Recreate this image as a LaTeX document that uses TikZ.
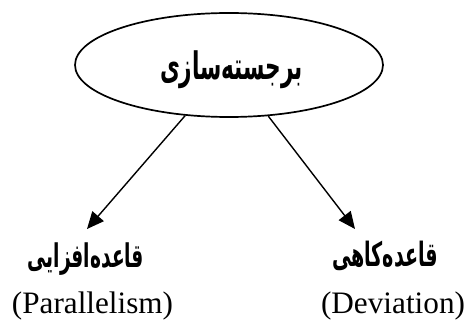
\documentclass[tikz,border=0pt]{standalone}
\usepackage{fontspec}
\usepackage{graphicx}
\setmainfont{Liberation Serif}
\newfontfamily\fafont[Script=Arabic]{DejaVu Sans}
\TeXXeTstate=1
\usetikzlibrary{shapes.geometric,arrows.meta}
\tikzset{
  mainell/.style={ellipse,draw,line width=1.7pt,minimum width=308pt,minimum height=104pt,inner sep=0pt},
  falabel/.style={inner sep=0pt,anchor=base,font=\fafont\bfseries\fontsize{20}{24}\selectfont},
  enlabel/.style={inner sep=0pt,font=\fontsize{31}{34}\selectfont},
  conn/.style={line width=1.4pt,-{Triangle[length=17pt,width=15pt]}}
}
\newcommand{\fitfa}[2]{\scalebox{1}[1.75]{\resizebox{#1}{!}{\beginR #2\endR}}}
\begin{document}
\begin{tikzpicture}[x=1pt,y=-1pt]
\useasboundingbox (0,0) rectangle (468,320);
\node[mainell] (ell) at (229,65) {};
\node[falabel] (t) at (231.5,80) {\fitfa{143pt}{برجسته‌سازی}};
\coordinate (tl) at (87,229);
\coordinate (tr) at (355,229);
\draw[conn] (ell) -- (tl);
\draw[conn] (ell) -- (tr);
\node[falabel] (l1) at (86,267) {\fitfa{116pt}{قاعده‌افزایی}};
\node[falabel] (l2) at (385,267) {\fitfa{106pt}{قاعده‌کاهی}};
\node[enlabel] (p1) at (92.5,306) {\resizebox{161pt}{!}{(Parallelism)}};
\node[enlabel] (p2) at (393,306) {\resizebox{144pt}{!}{(Deviation)}};
\end{tikzpicture}
\end{document}
